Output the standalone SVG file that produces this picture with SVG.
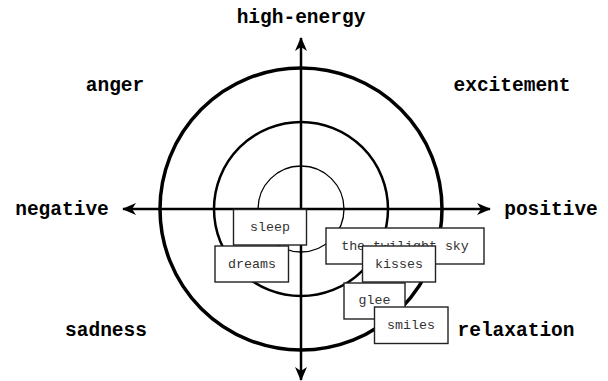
<svg xmlns="http://www.w3.org/2000/svg" width="608" height="381" viewBox="0 0 608 381">
<style>
.lbl{font-family:"Liberation Mono","DejaVu Sans Mono",monospace;font-weight:bold;font-size:19.5px;fill:#000;text-anchor:middle}
.box rect{fill:#fff;stroke:#222;stroke-width:1.4}
.box text{font-family:"Liberation Mono","DejaVu Sans Mono",monospace;font-size:13.3px;fill:#333;text-anchor:middle}
.ax{stroke:#000;stroke-width:2.5;fill:none}
.ring{fill:none;stroke:#000}
</style>
<defs>
<marker id="ah" viewBox="0 0 14 12" refX="13" refY="6" markerWidth="14" markerHeight="12" markerUnits="userSpaceOnUse" orient="auto">
<path d="M0,0 L14,6 L0,12 L4,6 Z" fill="#000"/>
</marker>
</defs>
<rect width="608" height="381" fill="#fff"/>
<g id="rings">
<circle class="ring" cx="301" cy="209" r="141" stroke-width="3.5"/>
<circle class="ring" cx="301" cy="209" r="87" stroke-width="2.5"/>
<circle class="ring" cx="301" cy="209" r="43" stroke-width="1.3"/>
</g>
<g id="connectors">
<line class="ax" x1="301" y1="209" x2="490" y2="209" marker-end="url(#ah)"/>
<line class="ax" x1="301" y1="209" x2="123" y2="209" marker-end="url(#ah)"/>
<line class="ax" x1="301" y1="209" x2="301" y2="38" marker-end="url(#ah)"/>
<line class="ax" x1="301" y1="209" x2="301" y2="380" marker-end="url(#ah)"/>
</g>
<g id="labels">
<text class="lbl" x="301" y="23">high-energy</text>
<text class="lbl" x="115" y="91">anger</text>
<text class="lbl" x="512" y="91">excitement</text>
<text class="lbl" x="62" y="215">negative</text>
<text class="lbl" x="551" y="215">positive</text>
<text class="lbl" x="106" y="336">sadness</text>
<text class="lbl" x="516" y="336">relaxation</text>
</g>
<g id="sleep" class="box"><rect x="233.5" y="209.5" width="73" height="35.5"/><text x="270" y="231">sleep</text></g>
<g id="dreams" class="box"><rect x="215" y="246" width="73.5" height="36"/><text x="252" y="268">dreams</text></g>
<g id="twilight" class="box"><rect x="326" y="228" width="158" height="36"/><text x="405" y="250">the twilight sky</text></g>
<g id="glee" class="box"><rect x="344" y="283" width="61" height="36"/><text x="374.5" y="304">glee</text></g>
<g id="kisses" class="box"><rect x="362.5" y="246" width="73" height="36"/><text x="399" y="268">kisses</text></g>
<g id="smiles" class="box"><rect x="374.5" y="307" width="73.5" height="36.5"/><text x="411" y="329">smiles</text></g>
</svg>
